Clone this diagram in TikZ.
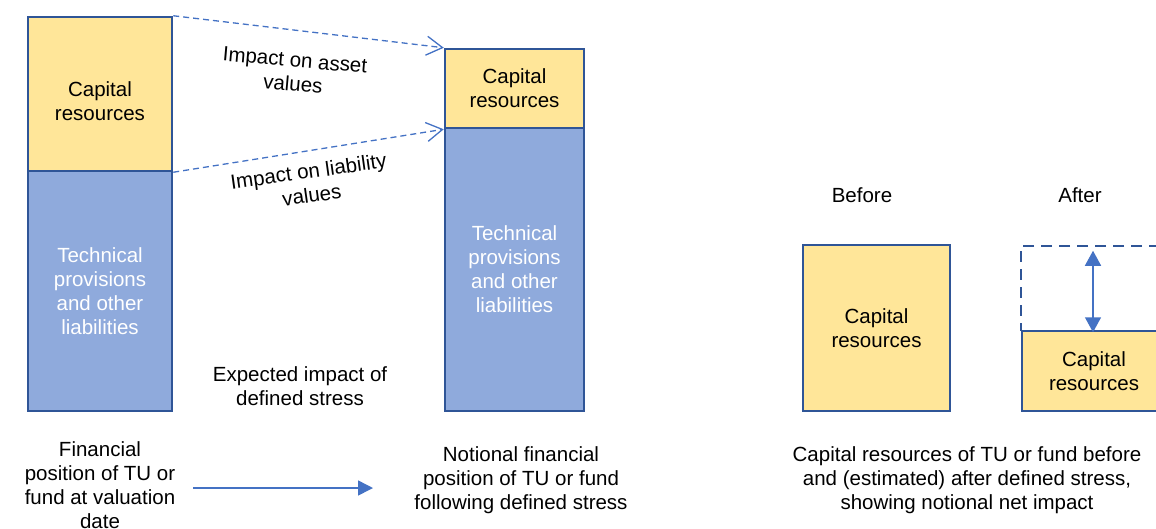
\documentclass[tikz,border=0pt]{standalone}
\usepackage{fontspec}
\setmainfont{Liberation Sans}
\usetikzlibrary{arrows.meta}

\definecolor{capyellow}{HTML}{FFE699}
\definecolor{liabblue}{HTML}{8FAADC}
\definecolor{edgeblue}{HTML}{2F5597}
\definecolor{arrowblue}{HTML}{4472C4}

\begin{document}
\begin{tikzpicture}[
  x=1pt, y=-1pt,
  font=\fontsize{20.5}{24}\selectfont,
  block/.style={draw=edgeblue, line width=2.5pt, inner sep=0pt, align=center},
  capbox/.style={block, fill=capyellow},
  liabbox/.style={block, fill=liabblue, text=white},
  label/.style={align=center, inner sep=0pt},
  impact/.style={draw=arrowblue, line width=1.3pt, dashed, dash pattern=on 6pt off 4pt,
    -{Straight Barb[length=16pt,width=19pt,line width=1.3pt]}},
  move/.style={draw=arrowblue, line width=1.5pt, -{Triangle[length=15pt,width=15pt]}},
]

\clip (0,0) rectangle (1156,528);

% financial position at valuation date
\node [capbox, minimum width=144pt, minimum height=154pt] (lcap) at (100,94) {};
\node [label] (lcaptext) at (100,101) {Capital\\resources};
\node [liabbox, minimum width=144pt, minimum height=240pt] (lliab) at (100,291) {Technical\\provisions\\and other\\liabilities};

% position following defined stress
\node [capbox, minimum width=139pt, minimum height=79pt] (mcap) at (514.5,88.5) {Capital\\resources};
\node [liabbox, minimum width=139pt, minimum height=283pt] (mliab) at (514.5,269.5) {Technical\\provisions\\and other\\liabilities};

\draw [impact] (lcap.north east) -- (mcap.north west);
\draw [impact] (lcap.south east) -- (mcap.south west);
\node [label, rotate=-5] (assetlbl) at (294,72) {Impact on asset\\values};
\node [label, rotate=8] (liablbl) at (310,183) {Impact on liability\\values};
\node [label] (expected) at (300,386) {Expected impact of\\defined stress};

\coordinate (mvstart) at (193,488);
\coordinate (mvend) at (373,488);
\draw [move] (mvstart) -- (mvend);

\node [label] (valdate) at (100,485) {Financial\\position of TU or\\fund at valuation\\date};
\node [label] (notional) at (521,480) {Notional financial\\position of TU or fund\\following defined stress};

% before and after
\node [label] (before) at (862,195) {Before};
\node [label] (after) at (1080,195) {After};
\node [capbox, minimum width=147pt, minimum height=166pt] (bcap) at (876.5,328) {Capital\\resources};
\node [block, dashed, dash pattern=on 11pt off 7pt, minimum width=144pt, minimum height=85pt] (aold) at (1093,288.5) {};
\node [capbox, minimum width=144pt, minimum height=80pt] (acap) at (1094,371) {Capital\\resources};
\draw [draw=arrowblue, line width=1.5pt, {Triangle[length=15pt,width=16pt]}-{Triangle[length=15pt,width=16pt]}]
  ([yshift=-6pt]aold.north) -- (aold.south);

\node [label] (summary) at (967,480) {Capital resources of TU or fund before\\and (estimated) after defined stress,\\showing notional net impact};

\end{tikzpicture}
\end{document}
